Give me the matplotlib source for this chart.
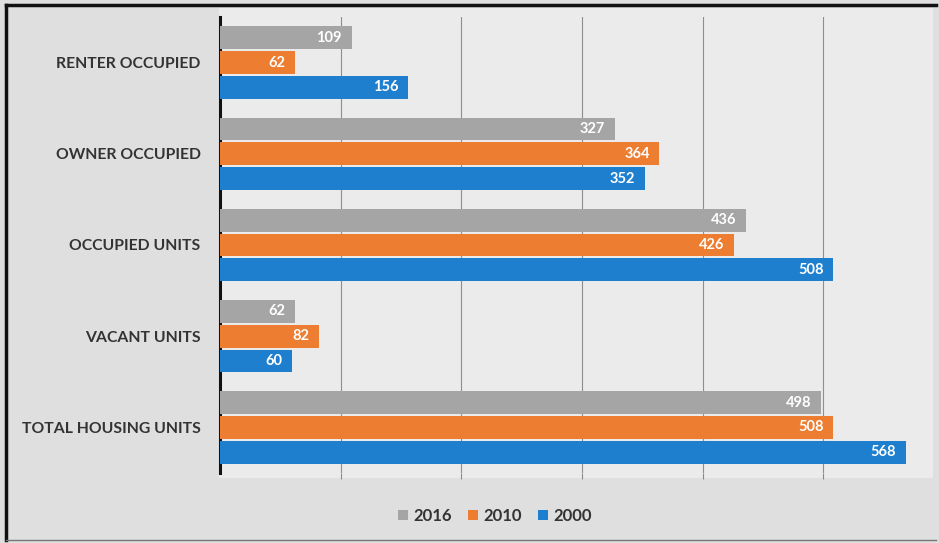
import matplotlib.pyplot as plt
from matplotlib.patches import Patch, Rectangle
from matplotlib.lines import Line2D
import numpy as np

categories = ["RENTER OCCUPIED", "OWNER OCCUPIED", "OCCUPIED UNITS",
              "VACANT UNITS", "TOTAL HOUSING UNITS"]
years = ["2016", "2010", "2000"]
values_2016 = [109, 327, 436, 62, 498]
values_2010 = [62, 364, 426, 82, 508]
values_2000 = [156, 352, 508, 60, 568]
colors = ["#a5a5a5", "#ed7d31", "#1f7fcf"]

plt.rcParams['font.family'] = ['Lato', 'DejaVu Sans']

fig = plt.figure(figsize=(9.39, 5.43), dpi=100, facecolor="#dfdfdf")

# slightly lighter panel behind the plot region
fig.add_artist(Rectangle((219 / 939, 1 - 478 / 543), 714 / 939, 470 / 543,
                         transform=fig.transFigure, facecolor="#ebebeb",
                         edgecolor="none", zorder=0))

ax = fig.add_axes([220 / 939, 1 - 473 / 543, (920 - 220) / 939, (473 - 17) / 543])
ax.set_facecolor("none")

y = np.arange(len(categories))
bar_h = 0.25
step = 0.272
series = [values_2016, values_2010, values_2000]
for i, (vals, col) in enumerate(zip(series, colors)):
    pos = y + (i - 1) * step
    ax.barh(pos, vals, height=bar_h, color=col, zorder=3)
    for p, v in zip(pos, vals):
        ax.annotate(str(v), (v, p), xytext=(-7, 0), textcoords="offset points",
                    ha="right", va="center", color="white",
                    fontsize=10.5, fontweight="bold", zorder=4)

ax.set_xlim(0, 580)
ax.set_ylim(len(categories) - 0.5, -0.5)
ax.set_xticks(np.arange(100, 600, 100))
ax.set_xticklabels([])
ax.tick_params(axis="x", length=4, color="#888888", direction="out")
ax.grid(axis="x", color="#8f8f8f", linewidth=0.8, zorder=0)

ax.set_yticks(y)
ax.set_yticklabels(categories, fontsize=11.3, fontweight="bold", color="#333333")
ax.tick_params(axis="y", length=0, pad=14)

for s in ["top", "right", "bottom"]:
    ax.spines[s].set_visible(False)
ax.spines["left"].set_color("#111111")
ax.spines["left"].set_linewidth(2.2)

handles = [Patch(facecolor=c, label=yr) for c, yr in zip(colors, years)]
fig.legend(handles=handles, loc="center", bbox_to_anchor=(495 / 939, 1 - 516 / 543),
           ncol=3, frameon=False, handlelength=0.6, handleheight=0.6,
           handletextpad=0.3, columnspacing=1.0,
           prop={"family": "Lato", "weight": "bold", "size": 12},
           labelcolor="#333333")

# frame round the chart
fig.add_artist(Line2D([6 / 939, 936 / 939], [1 - 5 / 543, 1 - 5 / 543],
                      color="#111111", linewidth=2.5))
fig.add_artist(Line2D([6 / 939, 6 / 939], [1 - 5 / 543, 1 - 540 / 543],
                      color="#111111", linewidth=2.5))
fig.add_artist(Line2D([6 / 939, 936 / 939], [1 - 540 / 543, 1 - 540 / 543],
                      color="#777777", linewidth=1))

fig.savefig("out.png", dpi=100, facecolor=fig.get_facecolor())
